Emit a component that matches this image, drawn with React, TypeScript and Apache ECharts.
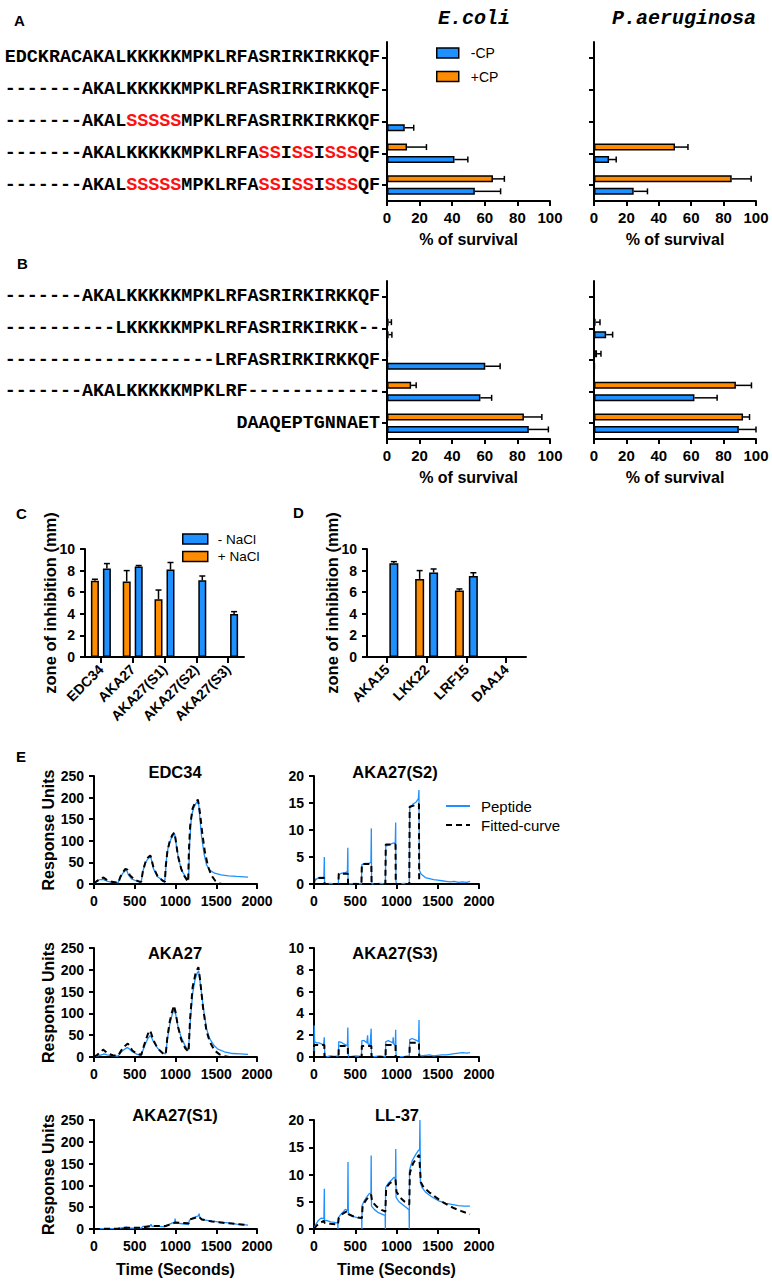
import React, { useEffect, useRef } from 'react';
import * as echarts from 'echarts';

const BLUE = '#1E90FF';
const ORANGE = '#FF8C00';
const SANS = '"Liberation Sans", Arial, sans-serif';
const MONO = '"Liberation Mono", "Courier New", monospace';

// ---------- Panel A (survival, bracketed letters = mutated residues in red) ----------
const SEQ_A = [
  'EDCKRACAKALKKKKKMPKLRFASRIRKIRKKQF',
  '-------AKALKKKKKMPKLRFASRIRKIRKKQF',
  '-------AKAL[SSSSS]MPKLRFASRIRKIRKKQF',
  '-------AKALKKKKKMPKLRFA[SS]I[SS]I[SSS]QF',
  '-------AKAL[SSSSS]MPKLRFA[SS]I[SS]I[SSS]QF',
];
const A_ECOLI_PLUS = [0, 0, 0, 12.3, 65];
const A_ECOLI_PLUS_SD = [0, 0, 0, 11.9, 7];
const A_ECOLI_MINUS = [0, 0, 10.9, 41.4, 53.9];
const A_ECOLI_MINUS_SD = [0, 0, 5.5, 8.2, 15.8];
const A_PAER_PLUS = [0, 0, 0, 50, 85];
const A_PAER_PLUS_SD = [0, 0, 0, 8, 12];
const A_PAER_MINUS = [0, 0, 0, 9.3, 24.5];
const A_PAER_MINUS_SD = [0, 0, 0, 4.4, 8.5];

// ---------- Panel B ----------
const SEQ_B = [
  '-------AKALKKKKKMPKLRFASRIRKIRKKQF',
  '----------LKKKKKMPKLRFASRIRKIRKK--',
  '-------------------LRFASRIRKIRKKQF',
  '-------AKALKKKKKMPKLRF------------',
  'DAAQEPTGNNAET',
];
const B_ECOLI_PLUS = [0, 1, 0.5, 14.8, 84];
const B_ECOLI_PLUS_SD = [0, 1.7, 0, 3.1, 11];
const B_ECOLI_MINUS = [0, 1, 60.3, 57.3, 87];
const B_ECOLI_MINUS_SD = [0, 2, 9.1, 6.9, 12];
const B_PAER_PLUS = [0, 1, 1.9, 87.6, 92];
const B_PAER_PLUS_SD = [0, 2.7, 2.4, 9.6, 4];
const B_PAER_MINUS = [0, 7.5, 0.5, 62, 89.4];
const B_PAER_MINUS_SD = [0, 4, 0, 14, 10.6];

// ---------- Panel C / D (zone of inhibition, mm) ----------
const C_CATS = ['EDC34', 'AKA27', 'AKA27(S1)', 'AKA27(S2)', 'AKA27(S3)'];
const C_PLUS = [7.05, 7.0, 5.35, 0, 0];
const C_PLUS_SD = [0.15, 1.0, 0.85, 0, 0];
const C_MINUS = [8.2, 8.37, 8.1, 7.1, 3.97];
const C_MINUS_SD = [0.45, 0.1, 0.65, 0.4, 0.23];
const D_CATS = ['AKA15', 'LKK22', 'LRF15', 'DAA14'];
const D_PLUS = [0, 7.23, 6.15, 0];
const D_PLUS_SD = [0, 0.77, 0.15, 0];
const D_MINUS = [8.68, 7.82, 7.5, 0];
const D_MINUS_SD = [0.15, 0.33, 0.3, 0];

// ---------- Panel E (sensorgrams: [time s, response units]) ----------
const EDC34_PEP = [[0,0],[20,5],[50,9],[80,10],[115,11],[130,9],[170,6],[220,4],[270,3],[295,3],[320,14],[350,24],[380,30],[400,33],[420,22],[460,12],[520,7],[580,5],[600,30],[630,48],[660,58],[690,63],[700,60],[730,35],[780,17],[840,9],[870,8],[890,60],[910,85],[940,102],[970,112],[990,116],[1010,90],[1040,55],[1080,30],[1130,15],[1160,10],[1175,100],[1195,155],[1220,175],[1250,186],[1280,195],[1300,150],[1320,110],[1350,70],[1380,45],[1420,32],[1480,25],[1560,21],[1650,19],[1750,17.5],[1890,16]];
const EDC34_FIT = [[0,0],[30,6],[70,11],[110,15],[125,14],[160,9],[220,5],[290,3],[300,3],[320,15],[350,26],[385,35],[410,33],[440,20],[500,10],[560,5],[580,5],[600,30],[630,50],[660,61],[690,66],[700,62],[730,38],[780,18],[840,8],[870,5],[880,40],[900,75],[930,100],[960,113],[985,119],[1000,105],[1030,65],[1070,35],[1110,18],[1155,5],[1165,80],[1180,135],[1210,175],[1240,188],[1275,195],[1300,165],[1330,115],[1360,75],[1400,40],[1440,20],[1490,7],[1540,1],[1570,0]];

const S2_PEP = [[0,0],[10,0.6],[30,0.9],[60,1.2],[100,1.2],[120,1.3],[125,5.0],[128,0.5],[135,0],[200,0.1],[250,0],[295,0.1],[300,1.8],[340,2.0],[380,2.1],[405,2.3],[410,6.7],[413,0.5],[420,0],[500,0.1],[575,0],[580,3.6],[620,3.8],[660,3.8],[690,4.0],[695,10.3],[698,0.5],[705,0],[800,0.1],[865,0],[870,7.0],[920,7.3],[960,7.6],[985,7.5],[990,11.4],[993,0.5],[1000,0],[1100,0.1],[1155,0],[1160,14.0],[1200,14.8],[1240,15.2],[1265,15.8],[1272,17.4],[1278,2.5],[1300,1.8],[1350,1.2],[1400,1.0],[1450,0.8],[1500,0.7],[1550,0.6],[1600,0.5],[1650,0.4],[1700,0.5],[1750,0.3],[1800,0.4],[1850,0.3],[1890,0.5]];
const S2_FIT = [[0,0],[5,1.1],[125,1.1],[128,0],[295,0],[300,1.9],[410,1.9],[413,0],[575,0],[580,3.7],[695,3.7],[698,0],[865,0],[870,7.3],[988,7.3],[991,0],[1155,0],[1160,14.3],[1272,14.8],[1275,0],[1300,0]];

const AKA27_PEP = [[0,0],[30,2],[70,4],[110,6],[125,7],[160,5],[220,3],[290,2],[300,3],[330,10],[370,17],[410,22],[430,19],[470,12],[530,6],[580,4],[600,15],[630,30],[660,42],[690,49],[700,47],[730,35],[780,20],[840,10],[880,7],[900,40],[930,75],[960,98],[985,110],[1000,100],[1030,70],[1070,45],[1120,25],[1160,16],[1180,80],[1210,145],[1240,178],[1270,194],[1285,197],[1310,160],[1340,115],[1380,65],[1420,42],[1470,27],[1520,18],[1600,12],[1700,8],[1800,7],[1890,6]];
const AKA27_FIT = [[0,0],[40,5],[80,11],[112,17],[125,15],[170,8],[230,4],[290,3],[300,4],[330,14],[370,24],[415,31],[430,27],[470,15],[530,7],[580,5],[600,18],[630,36],[660,52],[686,61],[700,55],[730,38],[780,20],[840,9],[880,6],[900,45],[930,82],[960,105],[981,118],[1000,104],[1030,70],[1070,40],[1120,20],[1160,12],[1180,90],[1210,160],[1250,195],[1281,206],[1300,180],[1340,110],[1380,60],[1420,35],[1480,15],[1540,6],[1600,2],[1660,0]];

const S3_PEP = [[0,0],[3,2.9],[8,1.4],[30,1.3],[60,1.3],[90,1.2],[115,1.1],[125,1.8],[130,0.2],[140,0],[200,0.1],[250,0.05],[295,0.1],[300,1.4],[330,1.35],[360,1.2],[390,1.1],[405,1.0],[410,2.7],[414,0.3],[420,0],[500,0.1],[575,0.05],[580,1.5],[610,1.5],[640,1.3],[650,2.0],[655,1.2],[680,1.1],[693,2.6],[697,0.3],[705,0],[800,0.1],[865,0],[870,1.4],[900,1.5],[930,1.4],[955,1.3],[960,1.8],[965,1.2],[985,1.1],[990,2.5],[994,0.3],[1000,0],[1100,0.05],[1155,0.1],[1160,1.6],[1190,1.7],[1220,1.6],[1250,1.5],[1268,1.4],[1273,3.4],[1277,0.2],[1300,0.1],[1400,0.2],[1450,0.1],[1500,0.15],[1550,0.2],[1600,0.2],[1650,0.25],[1700,0.3],[1750,0.35],[1800,0.4],[1850,0.35],[1890,0.4]];
const S3_FIT = [[0,0],[2,1.1],[125,1.1],[127,0],[298,0],[300,1.0],[410,1.0],[412,0],[578,0],[580,1.0],[695,1.0],[697,0],[868,0],[870,1.1],[988,1.1],[990,0],[1158,0],[1160,1.3],[1272,1.3],[1274,0],[1300,0]];

const S1_PEP = [[0,0],[100,1],[200,1],[290,1],[350,3],[400,5],[410,2],[500,2],[580,2],[600,6],[690,7],[700,11],[710,6],[800,6],[870,5],[880,7],[950,13],[990,16],[995,24],[1000,14],[1080,12],[1160,10],[1170,20],[1220,26],[1280,30],[1290,35],[1300,25],[1350,21],[1450,18],[1550,16],[1650,14],[1750,11],[1890,9]];
const S1_FIT = [[0,0],[300,1],[420,3],[580,3],[700,7],[880,7],[1000,15],[1160,13],[1175,22],[1290,28],[1320,22],[1450,17],[1650,13],[1890,9]];

const LL37_PEP = [[0,0],[20,0.8],[50,1.5],[85,2.0],[120,1.9],[125,7.4],[128,1.5],[150,1.6],[200,1.3],[250,1.2],[288,1.1],[290,0],[293,2.0],[320,2.6],[350,3.1],[380,3.6],[408,3.4],[412,12.3],[416,2.8],[450,2.5],[500,2.2],[550,2.0],[578,1.9],[580,0],[583,4.3],[610,5.2],[640,5.9],[670,6.5],[690,6.6],[693,13.5],[697,4.2],[730,3.6],[780,3.0],[830,2.7],[862,2.5],[865,0],[868,7.6],[900,8.4],[940,9.0],[970,9.5],[988,9.2],[991,14.7],[995,5.8],[1030,5.0],[1080,4.4],[1130,3.8],[1152,3.5],[1155,0],[1158,10.8],[1190,12.5],[1230,13.6],[1260,14.3],[1280,14.6],[1284,20],[1290,8.5],[1310,7.6],[1350,6.8],[1400,6.2],[1460,5.6],[1520,5.1],[1600,4.7],[1670,4.5],[1750,4.3],[1820,4.2],[1890,4.2]];
const LL37_FIT = [[0,0],[30,0.6],[70,1.1],[120,1.5],[130,1.1],[200,0.95],[290,0.8],[300,2.0],[340,2.7],[380,3.1],[410,3.3],[420,2.7],[480,2.3],[540,2.1],[580,2.0],[590,4.3],[630,5.3],[670,6.0],[692,6.3],[705,5.0],[760,4.1],[820,3.5],[865,3.2],[875,7.6],[920,8.4],[960,8.8],[988,9.0],[1000,6.8],[1050,5.7],[1100,5.0],[1155,4.5],[1162,10.3],[1200,12.0],[1240,13.0],[1275,13.6],[1295,8.6],[1330,7.6],[1400,6.7],[1470,5.9],[1550,5.0],[1620,4.4],[1700,3.8],[1800,3.2],[1890,2.7]];

// ---------- helpers ----------
const AXLINE = { show: true, lineStyle: { color: '#000', width: 2 } };
const tick = (len: number, align = false) => ({ show: true, length: len, alignWithLabel: align, lineStyle: { color: '#000', width: 2 } });
const NOSPLIT = { show: false };
const plain = (v: any) => String(v);
const boldLabel = (size: number, margin: number) => ({ show: true, color: '#000', fontFamily: SANS, fontWeight: 'bold', fontSize: size, margin });

function seqRich(s: string) {
  return s
    .split(/(\[[^\]]*\])/)
    .filter((p) => p.length > 0)
    .map((p) => (p.charAt(0) === '[' ? `{r|${p.slice(1, -1)}}` : `{k|${p}}`))
    .join('');
}

function errSeries(gi: number, vals: number[], sds: number[], offset: number, horizontal: boolean) {
  return {
    type: 'custom',
    name: 'err',
    xAxisIndex: gi,
    yAxisIndex: gi,
    z: 4,
    silent: true,
    data: vals.map((v, i) => [i, v, v + sds[i]]),
    encode: horizontal ? { x: [1, 2], y: 0 } : { x: 0, y: [1, 2] },
    renderItem: (_p: any, api: any) => {
      const i = api.value(0);
      const v = api.value(1);
      const hi = api.value(2);
      if (!(hi > v)) return null;
      const st = { stroke: '#000', lineWidth: 1.5 };
      if (horizontal) {
        const a = api.coord([v, i]);
        const b = api.coord([hi, i]);
        const y = a[1] + offset;
        return {
          type: 'group',
          children: [
            { type: 'line', shape: { x1: a[0], y1: y, x2: b[0], y2: y }, style: st },
            { type: 'line', shape: { x1: b[0], y1: y - 3, x2: b[0], y2: y + 3 }, style: st },
          ],
        };
      }
      const a = api.coord([i, v]);
      const b = api.coord([i, hi]);
      const x = a[0] + offset;
      return {
        type: 'group',
        children: [
          { type: 'line', shape: { x1: x, y1: a[1], x2: x, y2: b[1] }, style: st },
          { type: 'line', shape: { x1: x - 3, y1: b[1], x2: x + 3, y2: b[1] }, style: st },
        ],
      };
    },
  };
}

const H_BAR_W = 7;
const H_GAP = 0.78;
const H_OFF = (H_BAR_W * (1 + H_GAP)) / 2;

function hbarSeries(gi: number, plus: number[], plusSd: number[], minus: number[], minusSd: number[]) {
  const base = { type: 'bar', xAxisIndex: gi, yAxisIndex: gi, barWidth: H_BAR_W, barGap: `${H_GAP * 100}%`, silent: true };
  return [
    { ...base, name: '+CP', data: plus, itemStyle: { color: ORANGE, borderColor: '#000', borderWidth: 1.5 } },
    { ...base, name: '-CP', data: minus, itemStyle: { color: BLUE, borderColor: '#000', borderWidth: 1.5 } },
    errSeries(gi, plus, plusSd, -H_OFF, true),
    errSeries(gi, minus, minusSd, H_OFF, true),
  ];
}

function vbarSeries(gi: number, w: number, gap: number, plus: number[], plusSd: number[], minus: number[], minusSd: number[]) {
  const off = (w * (1 + gap)) / 2;
  const base = { type: 'bar', xAxisIndex: gi, yAxisIndex: gi, barWidth: w, barGap: `${gap * 100}%`, silent: true };
  return [
    { ...base, name: '+ NaCl', data: plus, itemStyle: { color: ORANGE, borderColor: '#000', borderWidth: 1.5 } },
    { ...base, name: '- NaCl', data: minus, itemStyle: { color: BLUE, borderColor: '#000', borderWidth: 1.5 } },
    errSeries(gi, plus, plusSd, -off, false),
    errSeries(gi, minus, minusSd, off, false),
  ];
}

function lineSeries(gi: number, pep: number[][], fit: number[][]) {
  return [
    { type: 'line', name: 'Peptide', xAxisIndex: gi, yAxisIndex: gi, data: pep, showSymbol: false, symbol: 'none', silent: true, z: 2, lineStyle: { color: BLUE, width: 1.3 }, itemStyle: { color: BLUE } },
    { type: 'line', name: 'Fitted-curve', xAxisIndex: gi, yAxisIndex: gi, data: fit, showSymbol: false, symbol: 'none', silent: true, z: 3, lineStyle: { color: '#000', width: 2, type: [6, 4] }, itemStyle: { color: '#000' } },
  ];
}

function hbarAxes(gi: number, cats: string[], showSeq: boolean) {
  const x = {
    type: 'value', gridIndex: gi, min: 0, max: 100, interval: 20,
    axisLine: AXLINE, axisTick: tick(5), axisLabel: { ...boldLabel(15, 9), formatter: plain }, splitLine: NOSPLIT,
    name: '% of survival', nameLocation: 'middle', nameGap: 30, nameMoveOverlap: false,
    nameTextStyle: { color: '#000', fontFamily: SANS, fontWeight: 'bold', fontSize: 16 },
  };
  const y = {
    type: 'category', gridIndex: gi, data: cats, inverse: true,
    axisLine: AXLINE, axisTick: tick(5, true), splitLine: NOSPLIT,
    axisLabel: showSeq
      ? {
          show: true, interval: 0, margin: 7,
          formatter: (v: string) => seqRich(v),
          rich: {
            k: { fontFamily: MONO, fontWeight: 'bold', fontSize: 18.4, color: '#000' },
            r: { fontFamily: MONO, fontWeight: 'bold', fontSize: 18.4, color: '#FF1010' },
          },
        }
      : { show: false },
  };
  return { x, y };
}

function vbarAxes(gi: number, cats: string[]) {
  const x = {
    type: 'category', gridIndex: gi, data: cats,
    axisLine: AXLINE, axisTick: tick(6, true), splitLine: NOSPLIT,
    axisLabel: { ...boldLabel(14, 10), rotate: 45, interval: 0 },
  };
  const y = {
    type: 'value', gridIndex: gi, min: 0, max: 10, interval: 2,
    axisLine: AXLINE, axisTick: tick(5), axisLabel: { ...boldLabel(14, 10), formatter: plain }, splitLine: NOSPLIT,
    name: 'zone of inhibition (mm)', nameLocation: 'middle', nameGap: 27, nameMoveOverlap: false,
    nameTextStyle: { color: '#000', fontFamily: SANS, fontWeight: 'bold', fontSize: 16.5 },
  };
  return { x, y };
}

function eAxes(gi: number, ymax: number, yint: number, yName: boolean, xName: boolean) {
  const x = {
    type: 'value', gridIndex: gi, min: 0, max: 2000, interval: 500,
    axisLine: AXLINE, axisTick: tick(5), axisLabel: { ...boldLabel(14, 10), formatter: plain }, splitLine: NOSPLIT,
    name: xName ? 'Time (Seconds)' : '', nameLocation: 'middle', nameGap: 32, nameMoveOverlap: false,
    nameTextStyle: { color: '#000', fontFamily: SANS, fontWeight: 'bold', fontSize: 16 },
  };
  const y = {
    type: 'value', gridIndex: gi, min: 0, max: ymax, interval: yint,
    axisLine: AXLINE, axisTick: tick(5), axisLabel: { ...boldLabel(14, 10), formatter: plain }, splitLine: NOSPLIT,
    name: yName ? 'Response Units' : '', nameLocation: 'middle', nameGap: 38, nameMoveOverlap: false,
    nameTextStyle: { color: '#000', fontFamily: SANS, fontWeight: 'bold', fontSize: 16 },
  };
  return { x, y };
}

const g = (left: number, top: number, width: number, height: number) => ({ left, top, width, height, containLabel: false, outerBoundsMode: 'none' });

function buildOption() {
  const grids = [
    g(387, 42, 163, 159), // 0 A E.coli
    g(594, 42, 162, 159), // 1 A P.aeruginosa
    g(387, 281, 163, 158), // 2 B E.coli
    g(594, 281, 162, 158), // 3 B P.aeruginosa
    g(85, 549, 159, 108), // 4 C
    g(367, 549, 159, 108), // 5 D
    g(94, 776, 163, 108), // 6 EDC34
    g(314, 776, 165, 108), // 7 AKA27(S2)
    g(94, 948, 163, 109), // 8 AKA27
    g(314, 948, 165, 109), // 9 AKA27(S3)
    g(94, 1120, 163, 109), // 10 AKA27(S1)
    g(314, 1120, 165, 109), // 11 LL-37
  ];
  const axes = [
    hbarAxes(0, SEQ_A, true),
    hbarAxes(1, SEQ_A, false),
    hbarAxes(2, SEQ_B, true),
    hbarAxes(3, SEQ_B, false),
    vbarAxes(4, C_CATS),
    vbarAxes(5, D_CATS),
    eAxes(6, 250, 50, true, false),
    eAxes(7, 20, 5, false, false),
    eAxes(8, 250, 50, true, false),
    eAxes(9, 10, 2, false, false),
    eAxes(10, 250, 50, true, true),
    eAxes(11, 20, 5, false, true),
  ];
  const series = [
    ...hbarSeries(0, A_ECOLI_PLUS, A_ECOLI_PLUS_SD, A_ECOLI_MINUS, A_ECOLI_MINUS_SD),
    ...hbarSeries(1, A_PAER_PLUS, A_PAER_PLUS_SD, A_PAER_MINUS, A_PAER_MINUS_SD),
    ...hbarSeries(2, B_ECOLI_PLUS, B_ECOLI_PLUS_SD, B_ECOLI_MINUS, B_ECOLI_MINUS_SD),
    ...hbarSeries(3, B_PAER_PLUS, B_PAER_PLUS_SD, B_PAER_MINUS, B_PAER_MINUS_SD),
    ...vbarSeries(4, 8, 0.5, C_PLUS, C_PLUS_SD, C_MINUS, C_MINUS_SD),
    ...vbarSeries(5, 9, 0.55, D_PLUS, D_PLUS_SD, D_MINUS, D_MINUS_SD),
    ...lineSeries(6, EDC34_PEP, EDC34_FIT),
    ...lineSeries(7, S2_PEP, S2_FIT),
    ...lineSeries(8, AKA27_PEP, AKA27_FIT),
    ...lineSeries(9, S3_PEP, S3_FIT),
    ...lineSeries(10, S1_PEP, S1_FIT),
    ...lineSeries(11, LL37_PEP, LL37_FIT),
  ];

  const txt = (text: string, x: number, y: number, font: string, align = 'left') => ({
    type: 'text', x, y, silent: true,
    style: { text, font, fill: '#000', align, textAlign: align, verticalAlign: 'middle', textVerticalAlign: 'middle' },
  });
  const letter = 'bold 15px "Liberation Sans", Arial, sans-serif';
  const ttl = 'bold 16.5px "Liberation Sans", Arial, sans-serif';
  const species = 'italic bold 20px "Liberation Mono", "Courier New", monospace';

  const graphic = [
    txt('A', 14, 20, letter),
    txt('E.coli', 474, 18, species, 'center'),
    txt('P.aeruginosa', 684, 18, species, 'center'),
    txt('B', 17, 263, letter),
    txt('C', 16, 513, letter),
    txt('D', 293, 512, letter),
    txt('E', 16, 756, letter),
    txt('EDC34', 175, 772, ttl, 'center'),
    txt('AKA27(S2)', 395, 772, ttl, 'center'),
    txt('AKA27', 175, 953, ttl, 'center'),
    txt('AKA27(S3)', 395, 953, ttl, 'center'),
    txt('AKA27(S1)', 175, 1115, ttl, 'center'),
    txt('LL-37', 397, 1115, ttl, 'center'),
  ];

  const legendBase = {
    orient: 'vertical', selectedMode: false, icon: 'rect', itemHeight: 10,
    itemStyle: { borderColor: '#000', borderWidth: 1.5 },
  };
  const legend = [
    { ...legendBase, data: ['-CP', '+CP'], left: 431, top: 40, itemWidth: 22, itemGap: 7.5,
      textStyle: { color: '#000', fontFamily: SANS, fontSize: 14, lineHeight: 16, padding: [0, 0, 0, 7] } },
    { ...legendBase, data: ['- NaCl', '+ NaCl'], left: 177, top: 526, itemWidth: 25, itemGap: 1.5,
      textStyle: { color: '#000', fontFamily: SANS, fontSize: 13.5, lineHeight: 16, padding: [0, 0, 0, 5] } },
    { orient: 'vertical', selectedMode: false, data: ['Peptide', 'Fitted-curve'], left: 440, top: 793,
      itemWidth: 24, itemHeight: 12, itemGap: 3,
      itemStyle: { opacity: 0 },
      textStyle: { color: '#000', fontFamily: SANS, fontSize: 15, lineHeight: 16, padding: [0, 0, 0, 6] } },
  ];

  return {
    animation: false,
    backgroundColor: '#ffffff',
    textStyle: { fontFamily: SANS },
    grid: grids,
    xAxis: axes.map((a) => a.x),
    yAxis: axes.map((a) => a.y),
    legend,
    graphic,
    series,
  };
}

export default function App() {
  const ref = useRef<HTMLDivElement>(null);
  useEffect(() => {
    if (!ref.current) return;
    const chart = echarts.init(ref.current, null, { renderer: 'svg' });
    chart.setOption(buildOption() as any);
    return () => chart.dispose();
  }, []);
  return (
    <div
      ref={ref}
      style={{ position: 'absolute', left: 0, top: 0, width: 772, height: 1282, background: '#fff' }}
    />
  );
}
